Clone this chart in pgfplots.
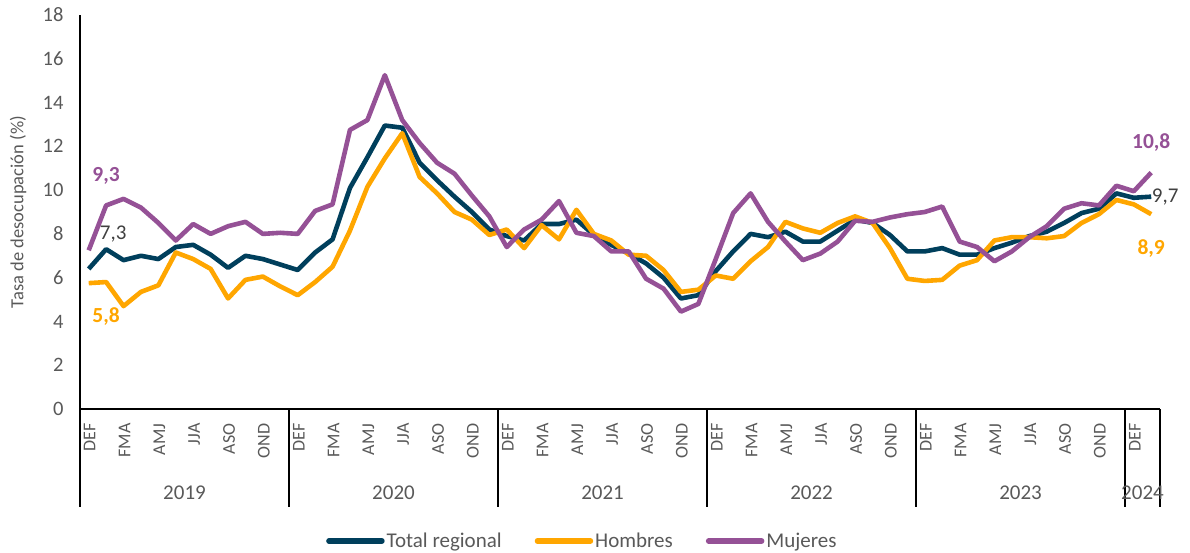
\documentclass[border=0pt]{standalone}
\usepackage{fontspec}
\setmainfont{Carlito}
\usepackage{pgfplots}
\pgfplotsset{compat=1.18}
\definecolor{ctotal}{HTML}{003F5C}
\definecolor{chom}{HTML}{FFA600}
\definecolor{cmuj}{HTML}{955196}
\definecolor{tgray}{HTML}{595959}
\definecolor{dgray}{HTML}{404040}
\begin{document}
\begin{tikzpicture}[x=1pt,y=1pt]
\path[use as bounding box] (0,0) rectangle (1190,552);
\begin{axis}[
  at={(80pt,143pt)}, anchor=south west,
  scale only axis, width=1080pt, height=394pt,
  xmin=-0.5, xmax=61.5, ymin=0, ymax=18,
  axis x line=bottom, axis y line=left,
  axis line style={-, black, line width=1.2pt},
  /pgf/number format/assume math mode=true,
  ytick={0,2,...,18}, major tick length=0pt,
  xtick={0,2,...,60},
  xticklabels={DEF,FMA,AMJ,JJA,ASO,OND,DEF,FMA,AMJ,JJA,ASO,OND,DEF,FMA,AMJ,JJA,ASO,OND,DEF,FMA,AMJ,JJA,ASO,OND,DEF,FMA,AMJ,JJA,ASO,OND,DEF},
  x tick label style={rotate=90, anchor=east, font=\fontsize{18}{18}\selectfont, text=tgray, xshift=-11pt, yshift=-1pt},
  y tick label style={font=\fontsize{20.5}{20.5}\selectfont, text=tgray, xshift=-13pt},
  ylabel={Tasa de desocupación (\%)},
  ylabel style={font=\fontsize{18.5}{18.5}\selectfont, text=tgray, at={(axis description cs:-0.0574,0.5)}, anchor=center},
  clip=false,
  legend columns=3,
  legend style={at={(0.4652,-0.335)}, anchor=center, draw=none, fill=none,
    font=\fontsize{21}{21}\selectfont, text=tgray, inner sep=0pt,
    /tikz/every even column/.append style={column sep=31pt}},
  legend image code/.code={\draw[#1, line width=5.5pt, line cap=round] (0pt,0pt) -- (53pt,0pt);},
  every axis plot/.append style={line width=4.6pt, line join=round, no markers},
]
\addplot[ctotal] table[x=i, y=v] {
i v
0 6.4
1 7.3
2 6.8
3 7.0
4 6.85
5 7.4
6 7.5
7 7.05
8 6.45
9 7.0
10 6.85
11 6.6
12 6.35
13 7.15
14 7.75
15 10.1
16 11.5
17 12.95
18 12.85
19 11.25
20 10.45
21 9.7
22 9.0
23 8.2
24 7.9
25 7.7
26 8.45
27 8.45
28 8.65
29 7.95
30 7.5
31 7.1
32 6.65
33 6.0
34 5.05
35 5.2
36 6.3
37 7.2
38 8.0
39 7.85
40 8.1
41 7.65
42 7.65
43 8.15
44 8.65
45 8.5
46 7.95
47 7.2
48 7.2
49 7.35
50 7.05
51 7.05
52 7.35
53 7.6
54 7.9
55 8.1
56 8.5
57 8.95
58 9.15
59 9.85
60 9.65
61 9.7
};
\addlegendentry{Total regional}
\addplot[chom] table[x=i, y=v] {
i v
0 5.75
1 5.8
2 4.7
3 5.35
4 5.65
5 7.15
6 6.85
7 6.4
8 5.05
9 5.9
10 6.05
11 5.6
12 5.2
13 5.8
14 6.5
15 8.15
16 10.15
17 11.45
18 12.6
19 10.6
20 9.85
21 9.0
22 8.65
23 7.95
24 8.2
25 7.35
26 8.4
27 7.75
28 9.1
29 8.0
30 7.7
31 7.05
32 7.0
33 6.35
34 5.35
35 5.45
36 6.1
37 5.95
38 6.75
39 7.4
40 8.55
41 8.25
42 8.05
43 8.5
44 8.8
45 8.5
46 7.35
47 5.95
48 5.85
49 5.9
50 6.55
51 6.8
52 7.7
53 7.85
54 7.85
55 7.8
56 7.9
57 8.5
58 8.9
59 9.55
60 9.35
61 8.9
};
\addlegendentry{Hombres}
\addplot[cmuj] table[x=i, y=v] {
i v
0 7.25
1 9.3
2 9.6
3 9.2
4 8.5
5 7.7
6 8.45
7 8.0
8 8.35
9 8.55
10 8.0
11 8.05
12 8.0
13 9.05
14 9.35
15 12.75
16 13.2
17 15.25
18 13.2
19 12.15
20 11.25
21 10.75
22 9.75
23 8.8
24 7.4
25 8.2
26 8.65
27 9.5
28 8.05
29 7.9
30 7.2
31 7.2
32 5.95
33 5.5
34 4.45
35 4.8
36 6.85
37 8.95
38 9.85
39 8.55
40 7.65
41 6.8
42 7.1
43 7.65
44 8.6
45 8.55
46 8.75
47 8.9
48 9.0
49 9.25
50 7.65
51 7.4
52 6.75
53 7.2
54 7.85
55 8.35
56 9.15
57 9.4
58 9.3
59 10.2
60 9.95
61 10.8
};
\addlegendentry{Mujeres}
% data labels
\node[text=cmuj, font=\fontsize{21.5}{21.5}\selectfont\bfseries] at (axis cs:1,9.3) [yshift=30pt] {9,3};
\node[text=dgray, font=\fontsize{21}{21}\selectfont] at (axis cs:1,7.3) [xshift=7pt, yshift=15pt] {7,3};
\node[text=chom, font=\fontsize{21.5}{21.5}\selectfont\bfseries] at (axis cs:1,5.8) [yshift=-34pt] {5,8};
\node[text=cmuj, font=\fontsize{21.5}{21.5}\selectfont\bfseries] at (axis cs:61,10.8) [yshift=30pt] {10,8};
\node[text=dgray, font=\fontsize{21}{21}\selectfont] at (axis cs:61,9.7) [xshift=14pt] {9,7};
\node[text=chom, font=\fontsize{21.5}{21.5}\selectfont\bfseries] at (axis cs:61,8.9) [yshift=-34pt] {8,9};
% multi-level category separators and year labels
\pgfplotsinvokeforeach{-0.5,11.5,23.5,35.5,47.5,59.5,61.5}{
  \draw[black, line width=1.2pt] (axis cs:#1,0) -- ++(0pt,-98pt);
}
\node[text=tgray, font=\fontsize{21}{21}\selectfont] at (axis cs:5.5,0) [yshift=-84pt] {2019};
\node[text=tgray, font=\fontsize{21}{21}\selectfont] at (axis cs:17.5,0) [yshift=-84pt] {2020};
\node[text=tgray, font=\fontsize{21}{21}\selectfont] at (axis cs:29.5,0) [yshift=-84pt] {2021};
\node[text=tgray, font=\fontsize{21}{21}\selectfont] at (axis cs:41.5,0) [yshift=-84pt] {2022};
\node[text=tgray, font=\fontsize{21}{21}\selectfont] at (axis cs:53.5,0) [yshift=-84pt] {2023};
\node[text=tgray, font=\fontsize{21}{21}\selectfont] at (axis cs:60.5,0) [yshift=-84pt] {2024};
\end{axis}
\end{tikzpicture}
\end{document}
